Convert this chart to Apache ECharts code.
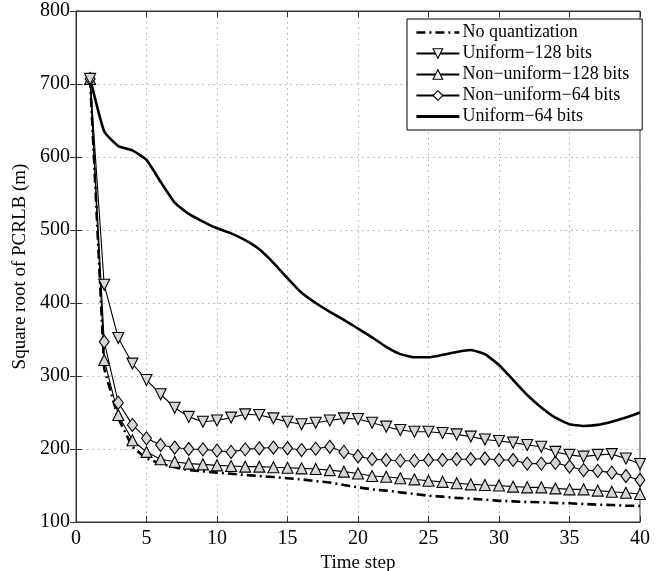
<!DOCTYPE html>
<html><head><meta charset="utf-8">
<script src="https://cdn.jsdelivr.net/npm/echarts@6/dist/echarts.min.js"></script>
<style>html,body{margin:0;padding:0;background:#fff}#c{width:663px;height:571px}</style>
</head><body><div id="c"></div>
<script>
const timeSteps = Array.from({length: 40}, (_, i) => i + 1);
const noQuant = [707,310,242,203,187,180,175,171,169.4,167.6,166,164.4,163,161.6,160,158.4,156,154,150.7,147.5,144.7,143,140.6,138.4,136,134.7,133,132,130.6,129,128.3,127.4,127,126,125.6,124.7,123.7,123.3,122.4,122];
const uniform128 = [707,425,352,317,294.5,275,256.6,244,237.4,239,243,247.5,246.6,242,237.4,234,236,239,242,241,236,230.6,226,223.7,223.7,222,220,217,213,211,208.7,205.5,203,196,192,189.5,192,193,187,179.5];
const nonUniform128 = [707,322,246.6,212,196,186,182.6,180,179,177.6,176.7,175.8,175.8,175,174.4,173.5,172.6,171,169,166.5,163,162,160,158.4,156.6,155,153,151.6,150.7,150,148.4,147.5,147.5,146,144.7,144.7,143,141.5,140,138.4];
const nonUniform64 = [707,347,263.5,233,214.6,205.5,202,200,199.5,197.7,196,199.5,201,202,201,198.6,200.5,203,196,190,186,185,184,184,185,185,186,186,187,185,185,180,180,181,176,171,170,167.6,163,157.5];
const uniform64 = [708,635,615,609,596,566,537.5,522,511.5,502.3,495.4,486,473.5,455,434,414,400,388,377,365,353,340,330,325.6,325.6,329,333,335.6,330,315,294.5,274,257,243,234,231.5,233,237.4,243,250];
const seriesNames = ['No quantization','Uniform\u2212128 bits','Non\u2212uniform\u2212128 bits','Non\u2212uniform\u221264 bits','Uniform\u221264 bits'];
const xTicks = [0,5,10,15,20,25,30,35,40];
const yTicks = [100,200,300,400,500,600,700,800];

const font = "'Liberation Serif','DejaVu Serif',serif";
const pair = arr => arr.map((v, i) => [timeSteps[i], v]);
const mFill = '#d6d6d6';
const chart = echarts.init(document.getElementById('c'));
const axisCommon = {
  axisLine: {show: true, lineStyle: {color: '#333', width: 1}},
  axisTick: {show: true, inside: true, length: 6, lineStyle: {color: '#333'}},
};
const noMark = {color: 'rgba(0,0,0,0)', borderWidth: 0, borderColor: 'rgba(0,0,0,0)'};
const legMark = {color: '#fff', borderColor: '#000', borderWidth: 1.1};
chart.setOption({
  animation: false,
  backgroundColor: '#fff',
  textStyle: {fontFamily: font},
  grid: {left: 76, right: 23, top: 11, bottom: 49, show: true, borderColor: '#333', borderWidth: 1,
    containLabel: false, outerBoundsMode: 'none'},
  legend: {
    orient: 'vertical', left: 407, top: 19,
    backgroundColor: '#fff', borderColor: '#000', borderWidth: 1,
    padding: [4, 13, 4, 8], itemGap: 2, itemWidth: 43, itemHeight: 12,
    textStyle: {fontFamily: font, fontSize: 18, color: '#000', lineHeight: 19, padding: [0,0,0,-2]},
    data: [
      {name: seriesNames[0], itemStyle: noMark, lineStyle: {width: 2.6, type: [9, 4, 2, 4]}},
      {name: seriesNames[1], itemStyle: legMark},
      {name: seriesNames[2], itemStyle: legMark},
      {name: seriesNames[3], itemStyle: legMark},
      {name: seriesNames[4], itemStyle: noMark, lineStyle: {width: 2.8}}
    ]
  },
  xAxis: [
    Object.assign({type: 'value', min: 0, max: 40, interval: 5, position: 'bottom',
      name: 'Time step', nameLocation: 'middle', nameGap: 28,
      nameTextStyle: {fontFamily: font, fontSize: 19, color: '#000'},
      axisLabel: {fontFamily: font, fontSize: 20, color: '#000', margin: 7},
      splitLine: {show: true, lineStyle: {color: '#aaa', type: [1.5, 4], width: 1}}}, axisCommon),
    Object.assign({type: 'value', min: 0, max: 40, interval: 5, position: 'top',
      axisLabel: {show: false}, splitLine: {show: false}}, axisCommon)
  ],
  yAxis: [
    Object.assign({type: 'value', min: 100, max: 800, interval: 100, position: 'left',
      name: 'Square root of PCRLB (m)', nameLocation: 'middle', nameGap: 44,
      nameTextStyle: {fontFamily: font, fontSize: 19, color: '#000'},
      axisLabel: {fontFamily: font, fontSize: 20, color: '#000', margin: 6},
      splitLine: {show: true, lineStyle: {color: '#aaa', type: [1.5, 4], width: 1}}}, axisCommon),
    Object.assign({type: 'value', min: 100, max: 800, interval: 100, position: 'right',
      axisLabel: {show: false}, splitLine: {show: false}}, axisCommon)
  ],
  series: [
    {name: seriesNames[4], type: 'line', data: pair(uniform64), showSymbol: false, symbol: 'none',
      smooth: 0.15, lineStyle: {color: '#000', width: 2.6}, itemStyle: {color: '#000'}, z: 2},
    {name: seriesNames[0], type: 'line', data: pair(noQuant), showSymbol: false, symbol: 'none',
      lineStyle: {color: '#000', width: 2.6, type: [9, 4, 2, 4]}, itemStyle: {color: '#000'}, z: 3},
    {name: seriesNames[2], type: 'line', data: pair(nonUniform128), symbol: 'triangle', symbolSize: 11,
      lineStyle: {color: '#000', width: 1.1}, itemStyle: {color: mFill, borderColor: '#000', borderWidth: 1.1}, z: 4},
    {name: seriesNames[3], type: 'line', data: pair(nonUniform64), symbol: 'diamond', symbolSize: [10, 13],
      lineStyle: {color: '#000', width: 1.1}, itemStyle: {color: mFill, borderColor: '#000', borderWidth: 1.1}, z: 5},
    {name: seriesNames[1], type: 'line', data: pair(uniform128), symbol: 'triangle', symbolRotate: 180, symbolSize: 11,
      lineStyle: {color: '#000', width: 1.1}, itemStyle: {color: mFill, borderColor: '#000', borderWidth: 1.1}, z: 6}
  ]
});
</script></body></html>
